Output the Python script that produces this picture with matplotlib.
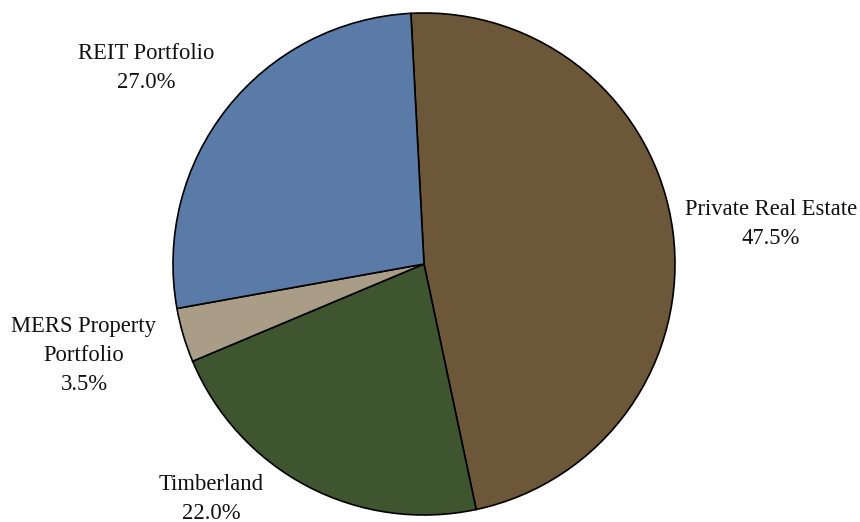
import matplotlib.pyplot as plt

labels = ['Private Real Estate', 'Timberland', 'MERS Property\nPortfolio', 'REIT Portfolio']
shares = [47.5, 22.0, 3.5, 27.0]
colors = ['#6c5738', '#3e5530', '#a99d87', '#5a7ba7']

# where each label block sits, in pie-radius units from the centre
label_xy = [(1.382, 0.159), (-0.849, -0.935), (-1.355, -0.363), (-1.108, 0.781)]

plt.rcParams['font.family'] = ['Liberation Serif', 'DejaVu Serif']

fig = plt.figure(figsize=(8.6, 5.22), dpi=100)
ax = fig.add_axes([0, 0, 1, 1])

ax.pie(shares, colors=colors, startangle=93, counterclock=False,
       wedgeprops=dict(edgecolor='black', linewidth=1.2))

for lab, val, (x, y) in zip(labels, shares, label_xy):
    ax.text(x, y, f'{lab}\n{val:.1f}%', ha='center', va='center',
            fontsize=16.3, linespacing=1.5, color='#111111')

ax.set_aspect('auto')
ax.set_xlim(-424 / 251, (860 - 424) / 251)
ax.set_ylim(-258 / 251, 264 / 251)
ax.axis('off')

fig.savefig('out.png', dpi=100)
